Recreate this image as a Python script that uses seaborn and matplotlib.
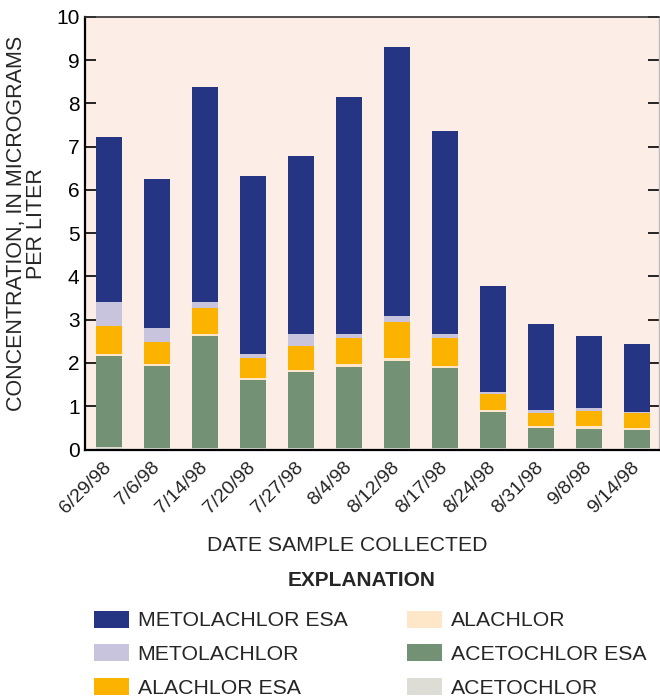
import pandas as pd
import numpy as np
import seaborn as sns
import matplotlib.pyplot as plt
from matplotlib.patches import Patch

dates = ['6/29/98', '7/6/98', '7/14/98', '7/20/98', '7/27/98', '8/4/98',
         '8/12/98', '8/17/98', '8/24/98', '8/31/98', '9/8/98', '9/14/98']
acetochlor = [0.06, 0.03, 0.03, 0.03, 0.03, 0.03, 0.03, 0.03, 0.03, 0.03, 0.03, 0.03]
acetochlor_esa = [2.10, 1.90, 2.60, 1.58, 1.76, 1.88, 2.02, 1.86, 0.84, 0.47, 0.44, 0.42]
alachlor = [0.05, 0.05, 0.04, 0.05, 0.05, 0.07, 0.07, 0.04, 0.04, 0.04, 0.07, 0.05]
alachlor_esa = [0.65, 0.51, 0.61, 0.46, 0.56, 0.60, 0.83, 0.65, 0.37, 0.30, 0.35, 0.34]
metolachlor = [0.55, 0.32, 0.13, 0.09, 0.27, 0.09, 0.14, 0.09, 0.05, 0.07, 0.07, 0.03]
metolachlor_esa = [3.81, 3.43, 4.96, 4.12, 4.12, 5.47, 6.20, 4.68, 2.45, 2.00, 1.67, 1.57]

df = pd.DataFrame({'date': dates,
                   'ACETOCHLOR': acetochlor,
                   'ACETOCHLOR ESA': acetochlor_esa,
                   'ALACHLOR': alachlor,
                   'ALACHLOR ESA': alachlor_esa,
                   'METOLACHLOR': metolachlor,
                   'METOLACHLOR ESA': metolachlor_esa})

# bottom to top
stack = ['ACETOCHLOR', 'ACETOCHLOR ESA', 'ALACHLOR', 'ALACHLOR ESA',
         'METOLACHLOR', 'METOLACHLOR ESA']
colors = {'METOLACHLOR ESA': '#263583',
          'METOLACHLOR': '#C9C4DD',
          'ALACHLOR ESA': '#FCB300',
          'ALACHLOR': '#FEE7C8',
          'ACETOCHLOR ESA': '#739175',
          'ACETOCHLOR': '#DDDDD5'}

cum = df[stack].cumsum(axis=1)
cum['date'] = df['date']

sns.set_style('white')
plt.rcParams['font.family'] = ['Liberation Sans', 'DejaVu Sans']

fig = plt.figure(figsize=(6.6, 6.98), dpi=100)
ax = fig.add_axes([0.129, 0.356, 0.870, 0.620])
ax.set_facecolor('#FCEDE6')

# overlapping cumulative bars, tallest first
for name in reversed(stack):
    sns.barplot(data=cum, x='date', y=name, color=colors[name], width=0.54,
                saturation=1, linewidth=0, ax=ax)

ax.set_xlim(-0.5, 11.46)
ax.set_ylim(0, 10)
ax.set_yticks(range(0, 11))
ax.tick_params(axis='y', direction='in', length=8, width=1.2, labelsize=15,
               pad=4, right=True, left=True, colors='black')
ax.tick_params(axis='x', length=0, labelsize=14, pad=11)
plt.setp(ax.get_xticklabels(), rotation=45, ha='right', va='center',
         rotation_mode='anchor')

for s in ['left', 'bottom']:
    ax.spines[s].set_color('black')
    ax.spines[s].set_linewidth(1.6)
ax.spines['top'].set_color('#333333')
ax.spines['top'].set_linewidth(1.2)
ax.spines['right'].set_color('#BBBBBB')
ax.spines['right'].set_linewidth(1.0)

ax.set_ylabel('CONCENTRATION, IN MICROGRAMS\nPER LITER', fontsize=15.5,
              linespacing=0.95)
ax.yaxis.set_label_coords(-0.066, 0.523)
ax.set_xlabel('DATE SAMPLE COLLECTED', fontsize=15.3)
ax.xaxis.set_label_coords(0.456, -0.199)

fig.text(362 / 660, 1 - 581 / 698, 'EXPLANATION', fontsize=15,
         fontweight='bold', ha='center', va='center')

legend_order = ['METOLACHLOR ESA', 'METOLACHLOR', 'ALACHLOR ESA',
                'ALACHLOR', 'ACETOCHLOR ESA', 'ACETOCHLOR']
handles = [Patch(facecolor=colors[n], edgecolor='none', label=n) for n in legend_order]
leg = fig.legend(handles=handles, ncol=2, loc='upper center',
                 bbox_to_anchor=(370 / 660, 1 - 600 / 698),
                 frameon=False, fontsize=15.3,
                 handlelength=1.65, handleheight=0.85, handletextpad=0.42,
                 columnspacing=2.8, labelspacing=0.66, borderpad=0)

fig.savefig('out.png', dpi=100)
